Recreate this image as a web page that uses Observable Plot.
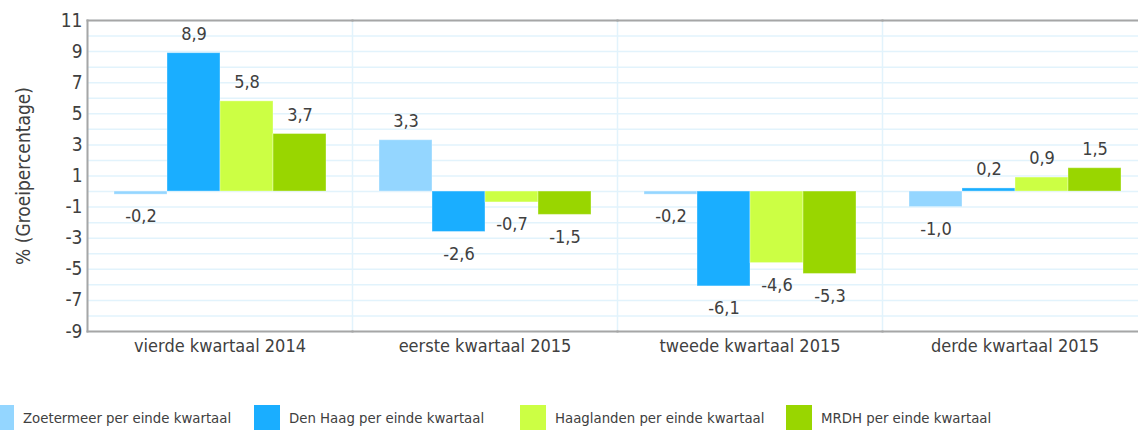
<!DOCTYPE html>
<html>
<head>
<meta charset="utf-8">
<script src="https://cdn.jsdelivr.net/npm/d3@7"></script>
<script src="https://cdn.jsdelivr.net/npm/@observablehq/plot@0.6"></script>
<style>
  html, body { margin: 0; padding: 0; background: #fff; overflow: hidden; }
  body { width: 1138px; height: 432px; font-family: "Liberation Sans Narrow", "DejaVu Sans Condensed", "Roboto Condensed", sans-serif; }
  #chart { width: 1138px; overflow: hidden; height: 380px; }
  #chart svg { max-width: none !important; }
  #legend { display: flex; align-items: center; margin-left: -12px; padding-top: 25px; font-size: 14.8px; color: #404040; white-space: nowrap; }
  .item { display: flex; align-items: center; width: 266px; flex: none; }
  .sw { width: 26px; height: 25px; margin-right: 9px; }
</style>
</head>
<body>
<div id="chart"></div>
<div id="legend"></div>
<script>
const quarters = ["vierde kwartaal 2014", "eerste kwartaal 2015", "tweede kwartaal 2015", "derde kwartaal 2015"];
const seriesNames = ["Zoetermeer per einde kwartaal", "Den Haag per einde kwartaal", "Haaglanden per einde kwartaal", "MRDH per einde kwartaal"];
const colors = ["#94d6ff", "#1aaeff", "#ccff44", "#99d600"];
const zoetermeer = [-0.2, 3.3, -0.2, -1.0];
const denHaag = [8.9, -2.6, -6.1, 0.2];
const haaglanden = [5.8, -0.7, -4.6, 0.9];
const mrdh = [3.7, -1.5, -5.3, 1.5];
const yTicks = [-9, -7, -5, -3, -1, 1, 3, 5, 7, 9, 11];
const yGrid = d3.range(-9, 12);

const seriesValues = [zoetermeer, denHaag, haaglanden, mrdh];
const data = [];
quarters.forEach((q, qi) => {
  seriesNames.forEach((s, si) => {
    data.push({quarter: q, series: s, value: seriesValues[si][qi]});
  });
});
const fmt = v => d3.format(".1f")(v).replace(".", ",").replace("−", "-");
const font = '"Liberation Sans Narrow", "DejaVu Sans Condensed", "Roboto Condensed", sans-serif';

const plot = Plot.plot({
  width: 1148,
  height: 380,
  marginTop: 20,
  marginBottom: 49,
  marginLeft: 85,
  marginRight: 0,
  style: {fontFamily: font, color: "#404040", background: "#fff", maxWidth: "none", height: "380px"},
  fx: {domain: quarters, padding: 0},
  x: {domain: seriesNames, paddingInner: 0, paddingOuter: 0.48, axis: null},
  y: {domain: [-9, 11]},
  color: {domain: seriesNames, range: colors},
  marks: [
    Plot.gridY(yGrid, {stroke: "#e2f3fc", strokeOpacity: 1, strokeWidth: 1.5}),
    Plot.frame({anchor: "left", stroke: "#e2f3fc", strokeWidth: 1.5}),
    Plot.barY(data, {fx: "quarter", x: "series", y: "value", fill: "series", stroke: "#ffffff", strokeOpacity: 0.35, strokeWidth: 1}),
    Plot.text(data.filter(d => d.value >= 0), {fx: "quarter", x: "series", y: "value", text: d => fmt(d.value), dy: -19, fontSize: 18, fill: "#404040"}),
    Plot.text(data.filter(d => d.value < 0), {fx: "quarter", x: "series", y: "value", text: d => fmt(d.value), dy: 22, fontSize: 18, fill: "#404040"}),
    Plot.frame({anchor: "top", stroke: "#a6a6a6", strokeWidth: 2}),
    Plot.frame({anchor: "bottom", stroke: "#a6a6a6", strokeWidth: 2}),
    Plot.frame({anchor: "left", stroke: "#a6a6a6", strokeWidth: 2, facet: "super"}),
    Plot.axisY({ticks: yTicks, tickSize: 0, tickPadding: 5, fontSize: 19, tickFormat: d => String(d), label: "% (Groeipercentage)", labelAnchor: "center", labelArrow: "none", labelOffset: 71}),
    Plot.axisFx({anchor: "bottom", tickSize: 0, tickPadding: 8, fontSize: 18, label: null})
  ]
});
document.getElementById("chart").appendChild(plot);

const legend = document.getElementById("legend");
seriesNames.forEach((s, i) => {
  const it = document.createElement("div");
  it.className = "item";
  const sw = document.createElement("div");
  sw.className = "sw";
  sw.style.background = colors[i];
  const t = document.createElement("span");
  t.textContent = s;
  it.appendChild(sw);
  it.appendChild(t);
  legend.appendChild(it);
});
</script>
</body>
</html>
